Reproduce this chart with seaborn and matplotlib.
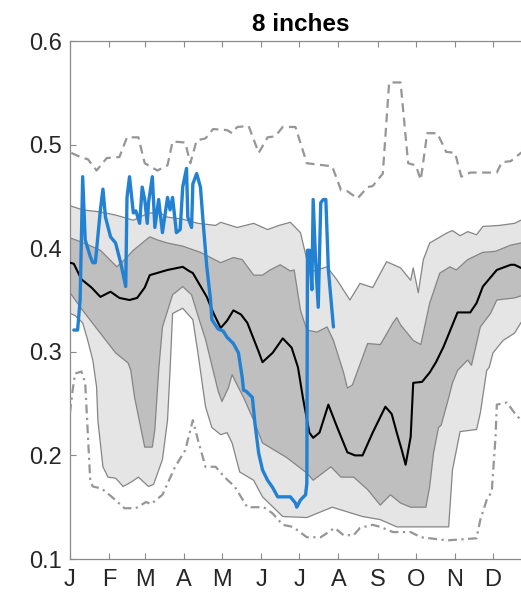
"""
Soil moisture at 8 inches: climatology bands, extremes and the current year.
"""

import numpy as np
import matplotlib
matplotlib.use("Agg")
import matplotlib.pyplot as plt
import seaborn as sns

# Month ticks (day of year of the 1st of each month)
month_days = [1, 32, 60, 91, 121, 152, 182, 213, 244, 274, 305, 335]
month_labels = ["J", "F", "M", "A", "M", "J", "J", "A", "S", "O", "N", "D"]
y_ticks = [0.1, 0.2, 0.3, 0.4, 0.5, 0.6]

# Outer band, upper edge
p90_day = [1, 11, 25, 37, 51, 63, 72, 78, 90, 102, 116, 120, 133, 146, 157, 166,
           175, 183, 188, 193, 204, 212, 222, 230, 240, 251, 262, 270, 272, 276,
           280, 285, 299, 303, 309, 315, 322, 327, 340, 352, 357, 365]
p90_val = [0.441, 0.437, 0.435, 0.432, 0.427, 0.434, 0.434, 0.430, 0.428, 0.424,
           0.422, 0.425, 0.420, 0.424, 0.418, 0.422, 0.425, 0.415, 0.389, 0.378,
           0.382, 0.369, 0.350, 0.366, 0.362, 0.387, 0.381, 0.369, 0.381, 0.357,
           0.389, 0.405, 0.415, 0.417, 0.412, 0.416, 0.413, 0.421, 0.422, 0.424,
           0.427, 0.432]

# Inner band, upper edge
p75_day = [1, 12, 25, 38, 45, 51, 64, 70, 78, 90, 104, 120, 126, 130, 137, 146,
           153, 159, 167, 175, 178, 183, 188, 196, 204, 209, 217, 220, 224, 236,
           246, 248, 256, 259, 262, 272, 278, 285, 293, 301, 306, 315, 327, 337,
           349, 357, 365]
p75_val = [0.410, 0.405, 0.398, 0.382, 0.390, 0.398, 0.411, 0.408, 0.405, 0.402,
           0.396, 0.386, 0.389, 0.391, 0.389, 0.374, 0.374, 0.379, 0.384, 0.378,
           0.379, 0.340, 0.321, 0.319, 0.324, 0.311, 0.280, 0.265, 0.268, 0.308,
           0.307, 0.311, 0.328, 0.333, 0.326, 0.311, 0.307, 0.347, 0.376, 0.382,
           0.379, 0.389, 0.396, 0.397, 0.403, 0.405, 0.409]

# Median
p50_day = [1, 4, 10, 18, 25, 33, 40, 48, 54, 60, 64, 78, 90, 95, 98, 109, 114,
           120, 125, 130, 136, 141, 150, 153, 161, 169, 176, 181, 185, 190, 193,
           198, 205, 212, 220, 226, 232, 240, 250, 255, 259, 263, 266, 270, 272,
           279, 285, 290, 296, 307, 317, 322, 327, 338, 349, 352, 357, 365]
p50_val = [0.386, 0.385, 0.370, 0.362, 0.353, 0.358, 0.352, 0.350, 0.352, 0.362,
           0.374, 0.379, 0.382, 0.378, 0.376, 0.353, 0.338, 0.323, 0.330, 0.340,
           0.336, 0.328, 0.300, 0.290, 0.299, 0.313, 0.304, 0.285, 0.255, 0.222,
           0.217, 0.222, 0.249, 0.227, 0.203, 0.200, 0.200, 0.222, 0.247, 0.240,
           0.222, 0.205, 0.191, 0.218, 0.270, 0.271, 0.280, 0.290, 0.305, 0.338,
           0.338, 0.347, 0.363, 0.379, 0.384, 0.384, 0.381, 0.386]

# Inner band, lower edge
p25_day = [1, 11, 23, 37, 47, 49, 52, 60, 66, 68, 71, 74, 82, 90, 97, 102, 108,
           114, 118, 121, 126, 129, 133, 138, 146, 153, 172, 188, 193, 207, 215,
           225, 236, 246, 254, 262, 270, 282, 285, 288, 292, 294, 299, 303, 307,
           315, 318, 325, 333, 338, 352, 365]
p25_val = [0.357, 0.340, 0.321, 0.299, 0.289, 0.282, 0.256, 0.208, 0.208, 0.225,
           0.282, 0.324, 0.355, 0.363, 0.355, 0.335, 0.312, 0.282, 0.262, 0.252,
           0.265, 0.278, 0.268, 0.256, 0.234, 0.212, 0.198, 0.183, 0.176, 0.189,
           0.179, 0.179, 0.167, 0.152, 0.162, 0.154, 0.150, 0.150, 0.170, 0.202,
           0.227, 0.229, 0.251, 0.270, 0.282, 0.292, 0.287, 0.324, 0.337, 0.350,
           0.352, 0.357]

# Outer band, lower edge
p10_day = [1, 5, 11, 15, 19, 22, 23, 27, 31, 37, 43, 49, 55, 63, 67, 74, 78, 80,
           82, 90, 98, 102, 105, 108, 113, 120, 125, 129, 135, 146, 153, 169, 188,
           208, 232, 246, 259, 300, 303, 309, 322, 325, 330, 332, 335, 343, 352,
           357, 365]
p10_val = [0.337, 0.335, 0.328, 0.311, 0.292, 0.266, 0.234, 0.189, 0.179, 0.178,
           0.170, 0.174, 0.179, 0.170, 0.172, 0.196, 0.234, 0.282, 0.337, 0.342,
           0.331, 0.299, 0.273, 0.247, 0.227, 0.220, 0.222, 0.212, 0.184, 0.176,
           0.160, 0.141, 0.140, 0.150, 0.141, 0.138, 0.131, 0.131, 0.186, 0.223,
           0.225, 0.241, 0.282, 0.285, 0.299, 0.311, 0.318, 0.328, 0.337]

# Record high
max_day = [2, 11, 15, 22, 30, 40, 46, 55, 60, 70, 78, 82, 92, 96, 101, 108, 114,
           125, 129, 133, 142, 150, 157, 163, 169, 179, 188, 195, 208, 215, 220,
           228, 236, 240, 248, 253, 262, 268, 274, 278, 283, 291, 298, 305, 310,
           317, 338, 342, 349, 357, 365]
max_val = [0.492, 0.487, 0.486, 0.475, 0.487, 0.488, 0.507, 0.507, 0.482, 0.475,
           0.480, 0.503, 0.502, 0.482, 0.504, 0.506, 0.515, 0.514, 0.511, 0.517,
           0.518, 0.492, 0.507, 0.508, 0.517, 0.517, 0.482, 0.481, 0.479, 0.456,
           0.455, 0.448, 0.459, 0.460, 0.472, 0.560, 0.560, 0.482, 0.480, 0.466,
           0.511, 0.511, 0.493, 0.492, 0.469, 0.473, 0.473, 0.483, 0.484, 0.492,
           0.495]

# Record low
min_day = [1, 3, 5, 10, 13, 17, 19, 26, 34, 44, 53, 61, 65, 74, 84, 92, 98, 102,
           108, 116, 123, 131, 136, 141, 154, 161, 169, 177, 188, 199, 210, 217,
           225, 230, 240, 246, 256, 270, 278, 299, 322, 325, 330, 334, 337, 338,
           346, 352, 357, 365]
min_val = [0.241, 0.262, 0.279, 0.281, 0.270, 0.175, 0.170, 0.168, 0.160, 0.149,
           0.149, 0.155, 0.153, 0.162, 0.189, 0.205, 0.234, 0.215, 0.189, 0.189,
           0.179, 0.170, 0.160, 0.150, 0.150, 0.144, 0.133, 0.131, 0.121, 0.121,
           0.130, 0.123, 0.123, 0.130, 0.133, 0.131, 0.126, 0.126, 0.121, 0.118,
           0.120, 0.138, 0.157, 0.165, 0.218, 0.249, 0.251, 0.241, 0.234, 0.225]

# Current year
cur_day = [4, 7, 9, 11, 13, 17, 19, 21, 25, 27, 29, 33, 37, 41, 45, 46, 48, 51,
           53, 56, 58, 60, 62, 63, 66, 68, 71, 74, 78, 80, 82, 85, 88, 90, 93, 94,
           97, 98, 101, 104, 106, 109, 112, 113, 118, 122, 125, 130, 134, 137,
           138, 140, 145, 147, 150, 153, 157, 161, 165, 175, 179, 180, 183, 187,
           188, 188.5, 190, 192, 193, 195, 197, 199, 201, 203, 205, 209]
cur_val = [0.321, 0.321, 0.350, 0.469, 0.408, 0.392, 0.386, 0.386, 0.437, 0.457,
           0.430, 0.411, 0.405, 0.386, 0.363, 0.449, 0.469, 0.434, 0.436, 0.424,
           0.459, 0.447, 0.424, 0.444, 0.469, 0.420, 0.447, 0.415, 0.449, 0.437,
           0.449, 0.415, 0.418, 0.459, 0.477, 0.430, 0.420, 0.462, 0.472, 0.459,
           0.427, 0.382, 0.350, 0.331, 0.322, 0.320, 0.314, 0.308, 0.299, 0.275,
           0.263, 0.262, 0.256, 0.231, 0.202, 0.186, 0.176, 0.169, 0.160, 0.160,
           0.154, 0.150, 0.157, 0.162, 0.173, 0.398, 0.398, 0.360, 0.447, 0.386,
           0.343, 0.444, 0.447, 0.447, 0.379, 0.324]


def band(ax, up_x, up_y, lo_x, lo_y, color):
    xs = np.concatenate([up_x, lo_x[::-1]])
    ys = np.concatenate([up_y, lo_y[::-1]])
    ax.fill(xs, ys, color=color, lw=0, zorder=1)


def main():
    sns.set_theme(style="white")
    plt.rcParams["font.family"] = ["Liberation Sans", "DejaVu Sans"]

    fig = plt.figure(figsize=(5.21, 6.0), dpi=100)
    # axes run past the right edge of the picture, as in the reference crop
    ax = fig.add_axes([70 / 521, 41 / 600, 461 / 521, 518 / 600])

    band(ax, np.array(p90_day), np.array(p90_val),
         np.array(p10_day), np.array(p10_val), "#e5e5e5")
    band(ax, np.array(p75_day), np.array(p75_val),
         np.array(p25_day), np.array(p25_val), "#bfbfbf")

    edge = dict(color="#858585", lw=0.9, zorder=2, legend=False)
    for xs, ys in [(p90_day, p90_val), (p75_day, p75_val),
                   (p25_day, p25_val), (p10_day, p10_val)]:
        sns.lineplot(x=xs, y=ys, ax=ax, **edge)

    sns.lineplot(x=p50_day, y=p50_val, ax=ax, color="black", lw=1.5, zorder=3)
    sns.lineplot(x=max_day, y=max_val, ax=ax, color="#969696", lw=1.6,
                 linestyle=(0, (4, 2.5)), zorder=3)
    sns.lineplot(x=min_day, y=min_val, ax=ax, color="#969696", lw=1.6,
                 linestyle=(0, (4, 2, 1, 2)), zorder=3)
    sns.lineplot(x=cur_day, y=cur_val, ax=ax, color="#2381d3", lw=2.4,
                 sort=False, zorder=4)

    ax.set_xlim(1, 365)
    ax.set_ylim(0.1, 0.6)
    ax.set_xticks(month_days)
    ax.set_xticklabels(month_labels)
    ax.set_yticks(y_ticks)
    ax.set_yticklabels([f"{v:.1f}" for v in y_ticks])
    ax.set_xlabel("")
    ax.set_ylabel("")

    for side in ["left", "bottom", "top"]:
        ax.spines[side].set_color("#8a8a8a")
        ax.spines[side].set_linewidth(0.9)
    ax.spines["right"].set_visible(False)

    ax.tick_params(axis="both", direction="in", length=4, width=0.8,
                   color="#8a8a8a", labelcolor="#262626", labelsize=17)
    ax.tick_params(axis="x", top=True, bottom=True, pad=7)
    ax.tick_params(axis="y", left=True, right=False, pad=6)

    ax.set_title("8 inches", fontsize=17.5, fontweight="bold", color="black", pad=7)

    fig.savefig("out.png", dpi=100)


if __name__ == "__main__":
    main()
